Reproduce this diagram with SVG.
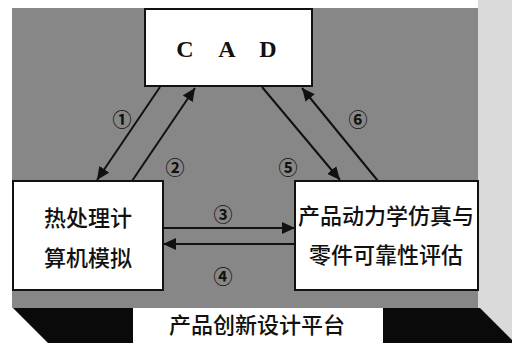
<svg xmlns="http://www.w3.org/2000/svg" width="512" height="343" viewBox="0 0 512 343">
<style>
.box{fill:#ffffff;stroke:#111111;stroke-width:2}
.cn{font-family:"Noto Sans CJK SC","Noto Sans",sans-serif;font-size:22px;font-weight:500;fill:#111111;text-anchor:middle}
.num{font-family:"Noto Sans CJK SC","DejaVu Sans",sans-serif;font-size:19px;font-weight:bold;fill:#111111;text-anchor:middle}
.cad{font-family:"Liberation Serif",serif;font-weight:bold;font-size:24px;fill:#111111;text-anchor:middle}
.conn{stroke:#111111;stroke-width:2;fill:none;marker-end:url(#ah)}
</style>
<defs>
<marker id="ah" markerUnits="userSpaceOnUse" markerWidth="14" markerHeight="12" refX="13" refY="6" orient="auto">
<path d="M0,0 L13,6 L0,12 z" fill="#111111"/>
</marker>
</defs>
<g id="background">
<rect x="0" y="0" width="512" height="343" fill="#ffffff"/>
<rect x="478" y="0" width="34" height="343" fill="#dadada"/>
<rect x="12" y="8" width="466" height="300" fill="#878787"/>
</g>
<g id="platform">
<polygon points="13,308 133,308 133,343 48,343" fill="#0a0a0a"/>
<polygon points="383,308 480,308 512,340 512,343 383,343" fill="#0a0a0a"/>
<rect x="133" y="308" width="250" height="35" fill="#ffffff"/>
<text class="cn" x="257" y="333">产品创新设计平台</text>
</g>
<g id="connectors">
<line class="conn" x1="160" y1="87" x2="97" y2="180"/>
<line class="conn" x1="132" y1="181" x2="195" y2="88"/>
<line class="conn" x1="262" y1="87" x2="340" y2="180"/>
<line class="conn" x1="378" y1="181" x2="302" y2="88"/>
<line class="conn" x1="163" y1="228" x2="295" y2="228"/>
<line class="conn" x1="295" y1="244" x2="163" y2="244"/>
<text class="num" x="122" y="127">①</text>
<text class="num" x="175" y="175">②</text>
<text class="num" x="223" y="222">③</text>
<text class="num" x="223" y="284">④</text>
<text class="num" x="288" y="175">⑤</text>
<text class="num" x="358" y="127">⑥</text>
</g>
<g id="cad">
<rect class="box" x="145" y="9" width="167" height="77"/>
<text class="cad" x="185" y="57">C</text>
<text class="cad" x="227" y="57">A</text>
<text class="cad" x="268" y="57">D</text>
</g>
<g id="heat">
<rect class="box" x="13" y="181" width="150" height="109"/>
<text class="cn" x="88" y="226">热处理计</text>
<text class="cn" x="88" y="266">算机模拟</text>
</g>
<g id="dynamics">
<rect class="box" x="295" y="181" width="183" height="109"/>
<text class="cn" x="386" y="224">产品动力学仿真与</text>
<text class="cn" x="386" y="263">零件可靠性评估</text>
</g>
</svg>
